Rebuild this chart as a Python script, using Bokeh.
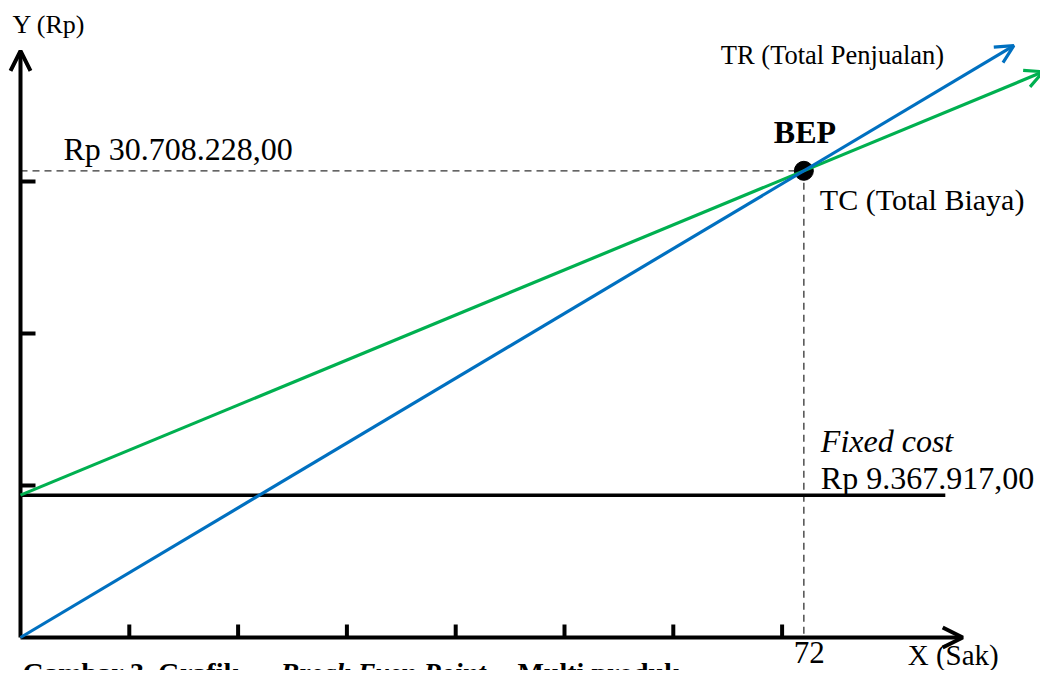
from bokeh.plotting import figure
from bokeh.models import Range1d, Arrow, OpenHead
from bokeh.core.properties import value
from bokeh.embed import file_html
from bokeh.resources import INLINE

# ---- data ----
bep_units = 72
bep_value = 30_708_228
fixed_cost = 9_367_917
x_ticks = [10, 20, 30, 40, 50, 60, 70]
y_ticks = [10_000_000, 20_000_000, 30_000_000]
tr_end_units = 91.3
tc_end_units = 94
fc_end_units = 85
x_axis_end = 86.6
y_axis_end = 38_600_000

bep_label = "Rp 30.708.228,00"
fc_label = "Rp 9.367.917,00"
caption_parts = ["Gambar 3. Grafik ", "Break Even Point", "Multi produk"]

# ---- scales (view only) ----
PXU = 10.88      # pixels per unit (Sak)
RPP = 65_800     # Rupiah per pixel
ORIGIN_X = 20    # px from left of canvas to origin
ORIGIN_Y = 637   # px from top of canvas to origin
W, H = 1040, 670

p = figure(width=W, height=H,
           x_range=Range1d(-ORIGIN_X / PXU, (W - ORIGIN_X) / PXU),
           y_range=Range1d(-(H - ORIGIN_Y) * RPP, ORIGIN_Y * RPP),
           x_axis_type=None, y_axis_type=None,
           output_backend="svg", toolbar_location=None, min_border=0)
p.grid.visible = False
p.outline_line_color = None
p.background_fill_color = "white"

FONT = value("Liberation Serif")
BLUE = "#0070C0"
GREEN = "#00B050"

tr_slope = bep_value / bep_units
tc_slope = (bep_value - fixed_cost) / bep_units

# dashed guide lines
p.line([0, bep_units], [bep_value, bep_value], line_color="#333333",
       line_width=1.3, line_dash="7 5")
p.line([bep_units, bep_units], [bep_value, 0], line_color="#333333",
       line_width=1.3, line_dash="7 5")

# fixed cost line
p.line([0, fc_end_units], [fixed_cost, fixed_cost], line_color="black", line_width=3.5)

# ticks
tick_x_len = 13 * RPP
tick_y_len = 15 / PXU
p.segment(x0=x_ticks, y0=[0] * len(x_ticks), x1=x_ticks, y1=[tick_x_len] * len(x_ticks),
          line_color="black", line_width=4)
p.segment(x0=[0] * len(y_ticks), y0=y_ticks, x1=[tick_y_len] * len(y_ticks), y1=y_ticks,
          line_color="black", line_width=4)

# BEP point
p.scatter([bep_units], [bep_value], size=19, color="black")

# axes
p.add_layout(Arrow(x_start=0, y_start=0, x_end=x_axis_end, y_end=0,
                   line_color="black", line_width=4,
                   end=OpenHead(size=20, line_width=4, line_color="black")))
p.add_layout(Arrow(x_start=0, y_start=0, x_end=0, y_end=y_axis_end,
                   line_color="black", line_width=4,
                   end=OpenHead(size=20, line_width=4, line_color="black")))

# TC and TR
p.add_layout(Arrow(x_start=0, y_start=fixed_cost, x_end=tc_end_units,
                   y_end=fixed_cost + tc_slope * tc_end_units,
                   line_color=GREEN, line_width=3.2,
                   end=OpenHead(size=18, line_width=3.2, line_color=GREEN)))
p.add_layout(Arrow(x_start=0, y_start=0, x_end=tr_end_units,
                   y_end=tr_slope * tr_end_units,
                   line_color=BLUE, line_width=3.2,
                   end=OpenHead(size=18, line_width=3.2, line_color=BLUE)))


def label(x, y, txt, dx, dy, size, style="normal"):
    # dy = wanted baseline offset (px, down positive); correct for renderer baseline shift
    p.text(x=[x], y=[y], text=[txt], x_offset=dx, y_offset=dy - 0.32 * size,
           text_font=FONT, text_font_size=f"{size}px", text_font_style=style,
           text_color="black", text_align="left", text_baseline="alphabetic")


label(0, y_axis_end, "Y (Rp)", -8, -18, 26)
label(tr_end_units, tr_slope * tr_end_units, "TR (Total Penjualan)", -293, 18, 26.5)
label(bep_units, bep_value, "BEP", -30, -29, 32, "bold")
label(0, bep_value, bep_label, 43, -12, 32)
label(bep_units, bep_value, "TC (Total Biaya)", 16, 38, 30)
label(bep_units, fixed_cost, "Fixed cost", 17, -44, 32, "italic")
label(bep_units, fixed_cost, fc_label, 17, -7, 32)
label(bep_units, 0, str(bep_units), -10, 25, 31)
label(x_axis_end, 0, "X (Sak)", -55, 27, 29)
label(0, 0, caption_parts[0], 2, 44, 28, "bold")
label(0, 0, caption_parts[1], 260, 44, 28, "bold italic")
label(0, 0, caption_parts[2], 497, 44, 28, "bold")

open("out.html", "w").write(file_html(p, INLINE))
